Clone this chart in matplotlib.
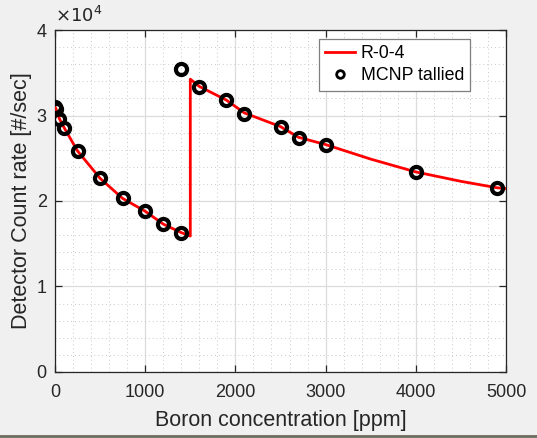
import numpy as np
import matplotlib.pyplot as plt
from matplotlib.ticker import MultipleLocator, FuncFormatter
from matplotlib.lines import Line2D

# R-0-4 curve (two branches with a jump at 1500 ppm)
line_x = [0, 10, 50, 100, 250, 500, 750, 1000, 1200, 1400, 1500,
          1500, 1600, 1900, 2100, 2500, 2700, 3000, 3500, 4000, 4500, 4900, 5000]
line_y = [31000, 30800, 29600, 28600, 25850, 22650, 20300, 18800, 17300, 16300, 15900,
          34250, 33400, 31800, 30300, 28700, 27450, 26600, 24900, 23400, 22300, 21550, 21450]

# MCNP tallied points
mcnp_x = [0, 10, 50, 100, 250, 500, 750, 1000, 1200, 1400, 1400,
          1600, 1900, 2100, 2500, 2700, 3000, 4000, 4900]
mcnp_y = [31030, 30760, 29600, 28570, 25850, 22650, 20300, 18870, 17270, 16290, 35440,
          33370, 31800, 30200, 28700, 27400, 26600, 23400, 21560]

plt.rcParams['font.family'] = ['Liberation Sans', 'DejaVu Sans']

fig = plt.figure(figsize=(5.37, 4.38), dpi=100, facecolor='#f0f0f0')
ax = fig.add_axes([0.1024, 0.1507, 0.8399, 0.7808])
ax.set_facecolor('white')

ax.plot(line_x, line_y, color='#ff0000', lw=2, zorder=3)
ax.plot(mcnp_x, mcnp_y, 'o', ms=8, mfc='none', mec='black', mew=3, zorder=4)

ax.set_xlim(0, 5000)
ax.set_ylim(0, 40000)
ax.xaxis.set_major_locator(MultipleLocator(1000))
ax.xaxis.set_minor_locator(MultipleLocator(200))
ax.yaxis.set_major_locator(MultipleLocator(10000))
ax.yaxis.set_minor_locator(MultipleLocator(2000))
ax.yaxis.set_major_formatter(FuncFormatter(lambda v, p: '%d' % round(v / 1e4)))

ax.grid(which='major', color='#dcdcdc', lw=0.9, ls='-')
ax.grid(which='minor', color='#c8c8c8', lw=0.7, ls=(0, (1, 3)))
ax.set_axisbelow(True)

for s in ax.spines.values():
    s.set_color('#262626')
    s.set_linewidth(0.9)
ax.tick_params(which='both', direction='in', top=True, right=True,
               colors='#262626', labelsize=13)
ax.tick_params(which='major', length=5, width=0.9)
ax.tick_params(which='minor', length=0)
ax.tick_params(axis='x', pad=9)
ax.tick_params(axis='y', pad=6)

ax.set_xlabel('Boron concentration [ppm]', fontsize=15.5, color='#262626', labelpad=6)
ax.set_ylabel('Detector Count rate [#/sec]', fontsize=15.5, color='#262626', labelpad=3)

ax.text(0.0, 1.012, r'$\times10^{4}$', transform=ax.transAxes, fontsize=13,
        color='#262626', ha='left', va='bottom')

handles = [Line2D([], [], color='#ff0000', lw=2),
           Line2D([], [], ls='none', marker='o', ms=5.5, mfc='none', mec='black', mew=2)]
leg = ax.legend(handles, ['R-0-4', 'MCNP tallied'], loc='upper left',
                bbox_to_anchor=(0.585, 0.974), borderaxespad=0, fontsize=12.8,
                frameon=True, fancybox=False, framealpha=1, edgecolor='#7f7f7f',
                handlelength=1.7, handletextpad=0.3, borderpad=0.35, labelspacing=0.3)
leg.get_frame().set_linewidth(0.9)

# dark strip at the bottom of the window
fig.add_artist(Line2D([0, 1], [0.004, 0.004], transform=fig.transFigure,
                      color='#6b6b5e', lw=2))

fig.savefig('out.png', dpi=100, facecolor=fig.get_facecolor())
